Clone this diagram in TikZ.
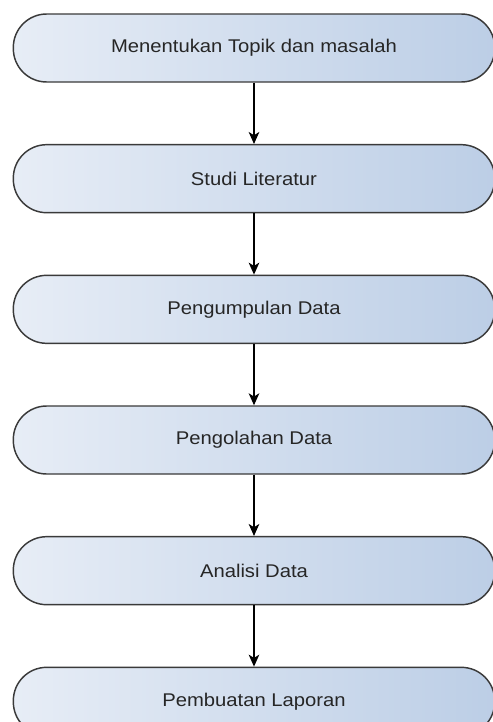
\documentclass[tikz,border=0pt]{standalone}
\usepackage{fontspec}
\setmainfont{Liberation Sans}[FakeStretch=1.1]
\usepackage{tikz}
\usepackage{xcolor}
\usetikzlibrary{positioning, arrows.meta}
\definecolor{boxleft}{HTML}{E7EDF6}
\definecolor{boxright}{HTML}{BCCEE6}
\definecolor{boxline}{HTML}{3A3A3A}

\begin{document}
\begin{tikzpicture}[
        tahap/.style={draw=boxline, line width=1.1pt, rounded corners=25pt,
            left color=boxleft, right color=boxright,
            minimum width=361pt, minimum height=51pt, inner sep=0pt,
            font=\fontsize{13.8}{16}\selectfont, text=black!85},
        panah/.style={-{Stealth[length=9pt, width=8pt, inset=2.5pt]}, line width=0.9pt},
        node distance=45.9pt
    ]
                \useasboundingbox (0,0) rectangle (369.75pt,-541.5pt);

                \node [tahap] (A) at (190.5pt,-36pt) {Menentukan Topik dan masalah};
                \node [tahap, below=of A] (B) {Studi Literatur};
                \node [tahap, below=of B] (C) {Pengumpulan Data};
                \node [tahap, below=of C] (D) {Pengolahan Data};
                \node [tahap, below=of D] (E) {Analisi Data};
                \node [tahap, below=of E] (F) {Pembuatan Laporan};


                \draw[panah] (A) -- (B);
                \draw[panah] (B) -- (C);
                \draw[panah] (C) -- (D);
                \draw[panah] (D) -- (E);
                \draw[panah] (E) -- (F);
            \end{tikzpicture}
\end{document}
